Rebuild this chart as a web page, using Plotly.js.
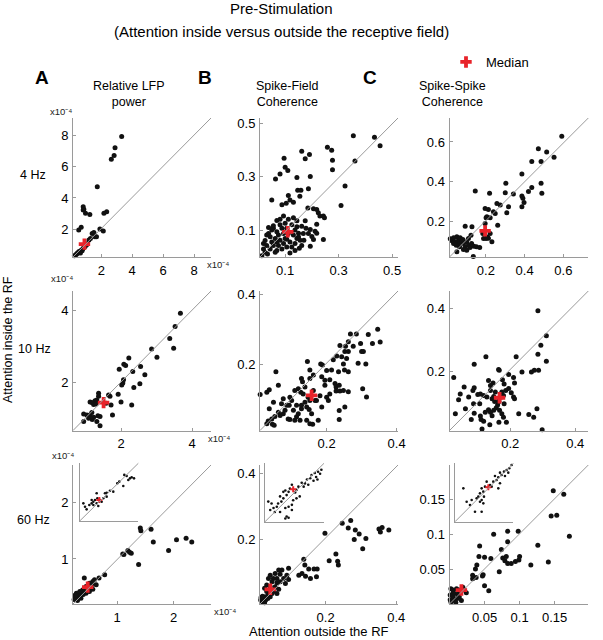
<!DOCTYPE html>
<html><head><meta charset="utf-8">
<script src="https://cdn.plot.ly/plotly-3.0.1.min.js"></script>
<style>html,body{margin:0;padding:0;background:#fff}#chart{width:603px;height:640px}</style>
</head><body><div id="chart"></div>
<script>
// ---------- DATA ----------
// Relative LFP power values are in units of 1e-4
const a4Points = [[3.32,7.96],[2.89,7.23],[2.83,6.73],[2.65,6.49],[1.74,4.73],[0.83,3.44],[0.87,3.28],[0.83,3.23],[0.98,3.01],[1.26,2.94],[2.35,3.12],[2.17,3.01],[0.70,2.11],[0.54,1.94],[1.91,2.00],[2.13,1.87],[1.41,1.72],[1.52,1.78],[1.59,1.50],[1.69,1.50],[1.20,1.29],[1.30,1.39],[0.26,0.28],[0.39,0.38],[0.54,0.53],[0.70,0.64],[0.87,0.81],[1.04,0.97],[0.43,0.42],[0.65,0.45],[0.76,0.60],[0.33,0.32],[0.48,0.45],[0.60,0.55],[0.80,0.72],[0.95,0.88],[1.10,1.05]];
const a4Median = [0.91,1.03];

const b4Points = [[0.355,0.453],[0.434,0.447],[0.455,0.415],[0.361,0.358],[0.258,0.410],[0.274,0.399],[0.277,0.361],[0.277,0.326],[0.324,0.265],[0.309,0.192],[0.162,0.395],[0.191,0.383],[0.175,0.367],[0.096,0.369],[0.100,0.335],[0.110,0.323],[0.081,0.310],[0.064,0.291],[0.144,0.297],[0.194,0.301],[0.147,0.249],[0.159,0.249],[0.155,0.227],[0.187,0.255],[0.112,0.230],[0.118,0.213],[0.131,0.204],[0.050,0.213],[0.088,0.195],[0.104,0.201],[0.185,0.183],[0.206,0.180],[0.218,0.177],[0.224,0.165],[0.230,0.153],[0.243,0.153],[0.247,0.147],[0.218,0.122],[0.194,0.103],[0.212,0.096],[0.218,0.089],[0.200,0.077],[0.206,0.065],[0.194,0.040],[0.243,0.065],[0.150,0.089],[0.162,0.115],[0.175,0.135],[0.094,0.153],[0.081,0.141],[0.069,0.136],[0.112,0.141],[0.131,0.147],[0.144,0.135],[0.013,0.005],[0.025,0.018],[0.019,0.050],[0.025,0.062],[0.031,0.082],[0.038,0.088],[0.044,0.076],[0.031,0.043],[0.044,0.030],[0.056,0.043],[0.050,0.056],[0.063,0.069],[0.056,0.107],[0.056,0.117],[0.069,0.094],[0.075,0.082],[0.081,0.063],[0.075,0.043],[0.069,0.024],[0.088,0.030],[0.094,0.050],[0.100,0.069],[0.094,0.088],[0.088,0.107],[0.081,0.120],[0.100,0.126],[0.106,0.107],[0.112,0.088],[0.118,0.056],[0.125,0.037],[0.118,0.015],[0.137,0.024],[0.137,0.050],[0.144,0.069],[0.131,0.082],[0.137,0.101],[0.144,0.113],[0.150,0.075],[0.156,0.063],[0.162,0.043],[0.168,0.088],[0.178,0.107],[0.187,0.088],[0.069,0.056],[0.106,0.037],[0.050,0.101],[0.038,0.110],[0.125,0.120],[0.106,0.066],[0.153,0.033],[0.170,0.063],[0.019,0.030],[0.034,0.011],[0.063,0.018]];
const b4Median = [0.110,0.094];

const c4Points = [[0.592,0.628],[0.471,0.566],[0.514,0.550],[0.552,0.524],[0.437,0.502],[0.485,0.502],[0.386,0.440],[0.485,0.393],[0.489,0.343],[0.437,0.372],[0.420,0.352],[0.386,0.330],[0.391,0.318],[0.397,0.297],[0.386,0.276],[0.342,0.340],[0.303,0.393],[0.300,0.346],[0.317,0.276],[0.308,0.245],[0.274,0.284],[0.257,0.292],[0.239,0.250],[0.248,0.242],[0.213,0.262],[0.196,0.267],[0.219,0.343],[0.145,0.355],[0.205,0.225],[0.222,0.221],[0.261,0.183],[0.196,0.192],[0.201,0.220],[0.208,0.124],[0.213,0.118],[0.222,0.142],[0.231,0.100],[0.188,0.117],[0.184,0.142],[0.201,0.117],[0.093,0.178],[0.128,0.175],[0.123,0.133],[0.016,0.116],[0.025,0.105],[0.033,0.120],[0.050,0.125],[0.059,0.108],[0.067,0.121],[0.076,0.100],[0.059,0.091],[0.042,0.100],[0.047,0.083],[0.064,0.075],[0.084,0.091],[0.093,0.075],[0.101,0.100],[0.110,0.083],[0.118,0.072],[0.126,0.091],[0.138,0.078],[0.151,0.075],[0.168,0.072],[0.084,0.062],[0.101,0.058],[0.050,0.050],[0.135,0.027],[0.081,0.112],[0.110,0.117],[0.033,0.091]];
const c4Median = [0.196,0.155];

const a10Points = [[3.67,3.93],[3.52,3.56],[3.37,3.22],[3.48,2.95],[2.86,2.93],[3.01,2.70],[2.22,2.68],[2.08,2.50],[2.13,2.47],[1.95,2.36],[2.55,2.44],[2.33,2.30],[2.67,2.21],[2.07,2.07],[2.05,1.98],[2.02,1.92],[2.53,1.96],[2.36,1.85],[1.92,1.66],[2.00,1.45],[2.30,1.36],[1.69,1.61],[1.65,1.64],[1.72,1.36],[1.76,1.08],[1.37,1.69],[1.37,1.61],[1.32,1.50],[1.27,1.48],[1.13,1.45],[1.23,1.38],[1.18,1.43],[1.30,1.39],[1.58,1.41],[0.95,1.11],[1.04,1.08],[1.13,1.08],[1.18,1.15],[1.23,1.02],[1.35,1.06],[1.41,1.04],[1.32,0.90],[1.41,0.78],[0.95,0.90],[1.09,0.99],[1.19,0.96]];
const a10Median = [1.51,1.43];

const b10Points = [[0.346,0.300],[0.353,0.263],[0.319,0.285],[0.285,0.286],[0.268,0.286],[0.262,0.264],[0.297,0.259],[0.331,0.259],[0.238,0.253],[0.254,0.251],[0.276,0.251],[0.252,0.236],[0.262,0.236],[0.300,0.236],[0.305,0.236],[0.229,0.223],[0.243,0.221],[0.257,0.216],[0.290,0.202],[0.312,0.200],[0.248,0.200],[0.251,0.183],[0.262,0.178],[0.234,0.178],[0.219,0.212],[0.214,0.183],[0.183,0.200],[0.188,0.197],[0.200,0.181],[0.186,0.163],[0.195,0.153],[0.209,0.155],[0.195,0.139],[0.224,0.144],[0.227,0.134],[0.236,0.139],[0.227,0.122],[0.238,0.122],[0.248,0.124],[0.262,0.120],[0.209,0.114],[0.200,0.104],[0.205,0.095],[0.181,0.109],[0.171,0.095],[0.252,0.076],[0.236,0.066],[0.236,0.040],[0.303,0.129],[0.314,0.105],[0.145,0.207],[0.152,0.183],[0.128,0.158],[0.131,0.149],[0.138,0.134],[0.152,0.158],[0.162,0.168],[0.119,0.129],[0.109,0.124],[0.126,0.119],[0.133,0.114],[0.147,0.104],[0.152,0.095],[0.138,0.090],[0.128,0.081],[0.143,0.076],[0.150,0.069],[0.157,0.057],[0.143,0.038],[0.152,0.028],[0.160,0.027],[0.176,0.038],[0.186,0.076],[0.167,0.095],[0.162,0.124],[0.124,0.038],[0.114,0.048],[0.100,0.095],[0.095,0.104],[0.093,0.081],[0.105,0.067],[0.086,0.081],[0.081,0.067],[0.071,0.086],[0.076,0.100],[0.067,0.052],[0.062,0.061],[0.052,0.049],[0.043,0.042],[0.033,0.036],[0.029,0.028],[0.045,0.027],[0.050,0.024],[0.090,0.042],[0.119,0.057],[0.128,0.071],[0.055,0.178],[0.062,0.139],[0.029,0.119],[0.036,0.126],[0.010,0.112],[0.048,0.090],[0.036,0.071],[0.076,0.057],[0.095,0.040],[0.114,0.081],[0.109,0.038]];
const b10Median = [0.157,0.110];

const c10Points = [[0.285,0.392],[0.311,0.313],[0.294,0.283],[0.285,0.254],[0.311,0.232],[0.218,0.246],[0.274,0.203],[0.287,0.203],[0.265,0.198],[0.236,0.198],[0.210,0.180],[0.213,0.163],[0.195,0.190],[0.176,0.173],[0.166,0.203],[0.181,0.160],[0.195,0.145],[0.203,0.132],[0.210,0.118],[0.213,0.113],[0.186,0.139],[0.174,0.134],[0.179,0.123],[0.181,0.097],[0.174,0.118],[0.165,0.113],[0.161,0.093],[0.157,0.084],[0.149,0.076],[0.167,0.076],[0.174,0.065],[0.179,0.054],[0.188,0.038],[0.149,0.120],[0.144,0.113],[0.128,0.118],[0.139,0.139],[0.147,0.163],[0.133,0.171],[0.139,0.155],[0.154,0.134],[0.125,0.246],[0.089,0.222],[0.164,0.206],[0.118,0.123],[0.108,0.128],[0.100,0.126],[0.089,0.148],[0.085,0.139],[0.106,0.097],[0.087,0.097],[0.072,0.118],[0.062,0.081],[0.089,0.067],[0.108,0.058],[0.110,0.047],[0.118,0.041],[0.137,0.030],[0.113,0.017],[0.133,0.078],[0.139,0.070],[0.144,0.059],[0.123,0.070],[0.080,0.047],[0.026,0.180],[0.041,0.110],[0.046,0.128],[0.031,0.065],[0.058,0.150],[0.226,0.065],[0.257,0.063],[0.272,0.054],[0.282,0.081],[0.298,0.014],[0.165,0.038],[0.152,0.104],[0.165,0.104]];
const c10Median = [0.167,0.116];

const a60Points = [[1.41,1.55],[1.42,1.50],[1.60,1.53],[1.64,1.30],[2.05,1.34],[2.22,1.37],[2.32,1.30],[1.91,1.15],[1.38,0.90],[1.10,1.09],[1.12,1.08],[1.19,1.15],[1.22,1.12],[1.25,1.10],[0.78,0.72],[0.68,0.66],[0.60,0.63],[0.57,0.60],[0.42,0.66],[0.51,0.57],[0.45,0.51],[0.39,0.45],[0.33,0.39],[0.28,0.39],[0.25,0.33],[0.31,0.33],[0.36,0.36],[0.42,0.42],[0.48,0.48],[0.54,0.51],[0.57,0.46],[0.36,0.30],[0.28,0.29],[0.45,0.39],[0.51,0.42],[0.63,0.54],[0.24,0.28],[0.30,0.26],[0.26,0.36],[0.34,0.42],[0.40,0.37],[0.44,0.46],[0.50,0.45],[0.55,0.55]];
const a60Median = [0.48,0.50];
const a60InsetPoints = [[0.808,0.838],[0.840,0.824],[0.886,0.790],[0.909,0.805],[0.941,0.790],[0.863,0.767],[0.739,0.744],[0.712,0.721],[0.794,0.684],[0.611,0.618],[0.566,0.590],[0.543,0.582],[0.474,0.488],[0.438,0.512],[0.406,0.488],[0.429,0.582],[0.383,0.465],[0.360,0.442],[0.328,0.418],[0.291,0.358],[0.246,0.442],[0.269,0.395],[0.383,0.418],[0.429,0.442],[0.497,0.465],[0.520,0.512],[0.360,0.488],[0.451,0.405],[0.566,0.535],[0.657,0.605]];
const a60InsetMedian = [0.465,0.488];

const b60Points = [[0.247,0.249],[0.271,0.257],[0.264,0.234],[0.284,0.228],[0.281,0.199],[0.295,0.216],[0.314,0.202],[0.305,0.171],[0.351,0.231],[0.360,0.236],[0.355,0.222],[0.379,0.228],[0.198,0.218],[0.210,0.134],[0.229,0.155],[0.234,0.133],[0.236,0.121],[0.138,0.139],[0.141,0.121],[0.152,0.109],[0.167,0.109],[0.176,0.109],[0.174,0.085],[0.157,0.080],[0.143,0.087],[0.133,0.095],[0.124,0.090],[0.095,0.111],[0.090,0.090],[0.076,0.106],[0.067,0.106],[0.071,0.093],[0.057,0.095],[0.043,0.090],[0.038,0.080],[0.052,0.080],[0.062,0.080],[0.081,0.080],[0.095,0.077],[0.048,0.070],[0.062,0.067],[0.071,0.070],[0.086,0.065],[0.033,0.060],[0.043,0.055],[0.057,0.055],[0.067,0.047],[0.052,0.040],[0.033,0.040],[0.027,0.050],[0.038,0.032],[0.029,0.024],[0.019,0.019],[0.016,0.014],[0.019,0.009],[0.024,0.014],[0.030,0.014],[0.036,0.019],[0.027,0.006],[0.043,0.024],[0.048,0.034],[0.062,0.034],[0.021,0.026],[0.017,0.022]];
const b60Median = [0.043,0.047];
const b60InsetPoints = [[0.086,0.080],[0.081,0.077],[0.084,0.074],[0.076,0.075],[0.078,0.069],[0.071,0.072],[0.069,0.067],[0.074,0.063],[0.064,0.065],[0.061,0.059],[0.056,0.060],[0.059,0.054],[0.051,0.054],[0.048,0.049],[0.046,0.045],[0.041,0.057],[0.038,0.051],[0.036,0.046],[0.033,0.041],[0.031,0.048],[0.028,0.036],[0.025,0.031],[0.023,0.039],[0.020,0.028],[0.018,0.023],[0.013,0.021],[0.010,0.028],[0.008,0.018],[0.005,0.031],[0.015,0.015],[0.023,0.015],[0.031,0.021],[0.036,0.023],[0.041,0.026],[0.043,0.033],[0.048,0.036],[0.053,0.039],[0.033,0.008],[0.036,0.006],[0.031,0.005],[0.041,0.018],[0.028,0.046],[0.066,0.057],[0.080,0.065]];
const b60InsetMedian = [0.043,0.050];

const c60Points = [[0.148,0.162],[0.163,0.157],[0.145,0.126],[0.153,0.127],[0.171,0.097],[0.126,0.084],[0.141,0.060],[0.116,0.056],[0.098,0.104],[0.099,0.063],[0.100,0.068],[0.094,0.061],[0.088,0.058],[0.083,0.058],[0.079,0.062],[0.076,0.066],[0.081,0.068],[0.074,0.078],[0.083,0.089],[0.083,0.104],[0.071,0.046],[0.063,0.100],[0.059,0.065],[0.050,0.067],[0.043,0.083],[0.042,0.068],[0.039,0.056],[0.037,0.050],[0.033,0.041],[0.038,0.038],[0.048,0.042],[0.047,0.040],[0.050,0.026],[0.056,0.019],[0.033,0.036],[0.002,0.022],[0.005,0.020],[0.010,0.022],[0.012,0.020],[0.017,0.021],[0.019,0.024],[0.007,0.015],[0.012,0.013],[0.005,0.010],[0.001,0.006],[0.002,0.003],[0.007,0.005],[0.011,0.008],[0.014,0.010],[0.017,0.005],[0.009,0.002],[0.013,0.016],[0.005,0.015],[0.001,0.013],[0.021,0.020],[0.024,0.016]];
const c60Median = [0.017,0.020];
const c60InsetPoints = [[0.0340,0.0340],[0.0326,0.0320],[0.0310,0.0310],[0.0320,0.0294],[0.0294,0.0300],[0.0280,0.0280],[0.0300,0.0274],[0.0270,0.0294],[0.0260,0.0266],[0.0250,0.0250],[0.0240,0.0274],[0.0230,0.0240],[0.0270,0.0230],[0.0260,0.0200],[0.0220,0.0210],[0.0180,0.0210],[0.0160,0.0200],[0.0170,0.0180],[0.0150,0.0170],[0.0140,0.0150],[0.0174,0.0150],[0.0160,0.0130],[0.0170,0.0110],[0.0150,0.0120],[0.0130,0.0140],[0.0100,0.0130],[0.0090,0.0100],[0.0120,0.0060],[0.0160,0.0060],[0.0050,0.0200],[0.0070,0.0120],[0.0190,0.0240],[0.0210,0.0220]];
const c60InsetMedian = [0.0200,0.0206];

// tick values (labelled) and unlabelled tick positions
const a4Ticks = [2,4,6,8];            const a4Minor = [];
const b4Ticks = [0.1,0.3,0.5];        const b4Minor = [0.2,0.4];
const c4Ticks = [0.2,0.4,0.6];        const c4Minor = [];
const a10Ticks = [2,4];               const a10Minor = [1,3];
const b10Ticks = [0.2,0.4];           const b10Minor = [0.1,0.3];
const c10Ticks = [0.2,0.4];           const c10Minor = [0.1,0.3];
const a60Ticks = [1,2];               const a60Minor = [0.5,1.5,2.5];
const b60Ticks = [0.2,0.4];           const b60Minor = [0.1,0.3];
const c60Ticks = [0.05,0.1,0.15];     const c60Minor = [];

// ---------- LAYOUT ----------
const W = 603, H = 640;
const fx = p => p / W, fy = p => 1 - p / H;
const colPx = [[73,211],[260,398],[449.5,588.3]];
const rowPx = [[118,257],[291,430.5],[465,604]];

const panels = [
  {pts:a4Points, med:a4Median, c:0, r:0, xr:[0.17,9.1], yr:[0.2,9.15], tv:a4Ticks, mv:a4Minor},
  {pts:b4Points, med:b4Median, c:1, r:0, xr:[0.006,0.522], yr:[0,0.519], tv:b4Ticks, mv:b4Minor},
  {pts:c4Points, med:c4Median, c:2, r:0, xr:[0.012,0.729], yr:[0.024,0.72], tv:c4Ticks, mv:c4Minor},
  {pts:a10Points, med:a10Median, c:0, r:1, xr:[0.65,4.53], yr:[0.65,4.55], tv:a10Ticks, mv:a10Minor},
  {pts:b10Points, med:b10Median, c:1, r:1, xr:[0.0095,0.404], yr:[0.0087,0.41], tv:b10Ticks, mv:b10Minor},
  {pts:c10Points, med:c10Median, c:2, r:1, xr:[0.013,0.44], yr:[0.012,0.455], tv:c10Ticks, mv:c10Minor},
  {pts:a60Points, med:a60Median, c:0, r:2, xr:[0.22,2.66], yr:[0.2,2.67], tv:a60Ticks, mv:a60Minor},
  {pts:b60Points, med:b60Median, c:1, r:2, xr:[0.014,0.405], yr:[0.002,0.427], tv:b60Ticks, mv:b60Minor},
  {pts:c60Points, med:c60Median, c:2, r:2, xr:[0,0.198], yr:[0,0.199], tv:c60Ticks, mv:c60Minor}
];
const insets = [
  {pts:a60InsetPoints, med:a60InsetMedian, x:[80,138.3], y:[463.3,520.7], xr:[0.2,1.0], yr:[0.2,1.0]},
  {pts:b60InsetPoints, med:b60InsetMedian, x:[265,324], y:[463.3,521.7], xr:[0,0.09], yr:[0,0.09]},
  {pts:c60InsetPoints, med:c60InsetMedian, x:[455,513.3], y:[463.3,521.7], xr:[0,0.035], yr:[0,0.035]}
];

const GREY = '#9a9a9a';
const axisBase = {showline:true, linecolor:GREY, linewidth:1, ticks:'inside', ticklen:3, tickcolor:GREY,
  showgrid:false, zeroline:false, tickfont:{size:13, color:'#000'}, fixedrange:true, ticklabelstandoff:1};
const RED = '#e8232a';
const layout = {width:W, height:H, margin:{l:0,r:0,t:0,b:0}, paper_bgcolor:'#fff', plot_bgcolor:'rgba(0,0,0,0)',
  font:{family:'"Liberation Sans", Arial, sans-serif', color:'#000'},
  showlegend:true,
  legend:{x:fx(446), y:fy(62), xanchor:'left', yanchor:'middle', font:{size:13}, bgcolor:'rgba(0,0,0,0)', itemwidth:30},
  shapes:[], annotations:[]};
const traces = [];
let n = 0;
function axName(k){ return k === 1 ? '' : String(k); }
function addPanel(p, xd, yd, inset){
  n++;
  const id = axName(n);
  const xs = 'x' + id, ys = 'y' + id;
  const common = inset ? {ticks:'', showticklabels:false, tickmode:'array', tickvals:[]}
                       : {tickmode:'array', tickvals:p.tv};
  layout['xaxis' + id] = Object.assign({}, axisBase, common, {domain:xd, range:p.xr, anchor:ys});
  layout['yaxis' + id] = Object.assign({}, axisBase, common, {domain:yd, range:p.yr, anchor:xs});
  layout.shapes.push({type:'line', xref:xs + ' domain', yref:ys + ' domain', x0:0, y0:0, x1:1, y1:1,
    line:{color:GREY, width:1}});
  traces.push({type:'scatter', mode:'markers', x:p.pts.map(q => q[0]), y:p.pts.map(q => q[1]), xaxis:xs, yaxis:ys,
    marker:{size: inset ? 2.6 : 5, color:'#111'}, showlegend:false, hoverinfo:'skip', cliponaxis:false});
  traces.push({type:'scatter', mode:'markers', x:[p.med[0]], y:[p.med[1]], xaxis:xs, yaxis:ys, name:'Median',
    marker:{symbol:'cross', size: inset ? 5 : 9.5, color:RED}, showlegend:n === 1, hoverinfo:'skip', cliponaxis:false});
  return {xs, ys};
}
const mains = panels.map(p => addPanel(p, [fx(colPx[p.c][0]), fx(colPx[p.c][1])], [fy(rowPx[p.r][1]), fy(rowPx[p.r][0])], false));
insets.forEach(p => addPanel(p, [fx(p.x[0]), fx(p.x[1])], [fy(p.y[1]), fy(p.y[0])], true));
// overlay axes carrying the unlabelled ticks
panels.forEach((p, i) => {
  if (!p.mv.length) return;
  n++;
  const id = axName(n), m = mains[i];
  const tickOnly = {showline:false, ticks:'inside', ticklen:3, tickcolor:GREY, showgrid:false, zeroline:false,
    showticklabels:false, tickmode:'array', tickvals:p.mv, fixedrange:true};
  layout['xaxis' + id] = Object.assign({}, tickOnly, {overlaying:m.xs, anchor:m.ys, range:p.xr, side:'bottom'});
  layout['yaxis' + id] = Object.assign({}, tickOnly, {overlaying:m.ys, anchor:m.xs, range:p.yr, side:'left'});
});

function ann(text, xp, yp, size, extra){
  layout.annotations.push(Object.assign({text:text, x:fx(xp), y:fy(yp), xref:'paper', yref:'paper',
    showarrow:false, xanchor:'center', yanchor:'middle', font:{size:size, color:'#000'}}, extra || {}));
}
ann('Pre-Stimulation', 281, 9, 15);
ann('(Attention inside versus outside the receptive field)', 281, 31, 15);
ann('<b>A</b>', 42, 77, 19);
ann('<b>B</b>', 205, 77, 19);
ann('<b>C</b>', 370, 77, 19);
ann('Relative LFP<br>power', 129, 94, 12.5);
ann('Spike-Field<br>Coherence', 287, 94, 12.5);
ann('Spike-Spike<br>Coherence', 452, 94, 12.5);
ann('4 Hz', 33, 175, 12.5);
ann('10 Hz', 34, 349, 12.5);
ann('60 Hz', 33, 520, 12.5);
ann('Attention inside the RF', 8, 340, 12.5, {textangle:-90});
ann('Attention outside the RF', 319, 631, 13);
const sci = 'x10\u207B\u2074';
const sciLabels = [[61,111],[218,264],[62,278],[219,438],[63,455],[225,611]];
sciLabels.forEach(s => ann(sci, s[0], s[1], 9.5, {font:{size:9.5, color:'#222'}}));

Plotly.newPlot('chart', traces, layout, {staticPlot:true, displayModeBar:false});
</script>
</body></html>
